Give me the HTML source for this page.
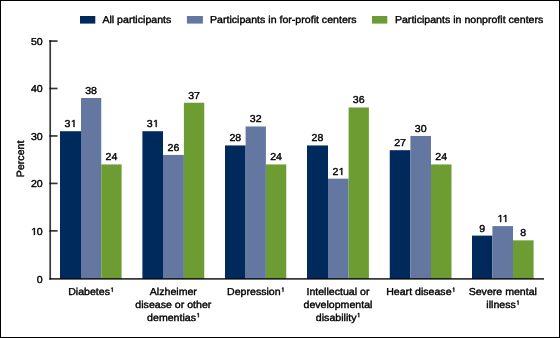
<!DOCTYPE html>
<html><head><meta charset="utf-8"><style>
html,body{margin:0;padding:0;background:#fff}
.wrap{position:relative;width:560px;height:338px;box-sizing:border-box;border:1px solid #000;overflow:hidden;background:#fff}
svg{position:absolute;left:-1px;top:-1px}
.t{will-change:transform}
text{font-family:"Liberation Sans",sans-serif;font-size:10.6px;fill:#000;stroke:#000;stroke-width:0.4px;text-rendering:geometricPrecision}
.h{fill:transparent;stroke:none}
.g{fill:#000;stroke:#000;stroke-width:0.4px;vector-effect:non-scaling-stroke}
</style></head><body><div class="wrap">
<svg width="560" height="338" viewBox="0 0 560 338">
<rect x="60.00" y="131.21" width="21.00" height="147.69" fill="#002A5C"/>
<rect x="81.00" y="97.99" width="20.25" height="180.91" fill="#6477A0"/>
<rect x="101.25" y="164.42" width="20.35" height="114.48" fill="#6D9D32"/>
<rect x="142.40" y="131.21" width="20.60" height="147.69" fill="#002A5C"/>
<rect x="163.00" y="154.93" width="20.90" height="123.97" fill="#6477A0"/>
<rect x="183.90" y="102.74" width="20.35" height="176.16" fill="#6D9D32"/>
<rect x="225.00" y="145.44" width="20.60" height="133.46" fill="#002A5C"/>
<rect x="245.60" y="126.46" width="20.30" height="152.44" fill="#6477A0"/>
<rect x="265.90" y="164.42" width="20.35" height="114.48" fill="#6D9D32"/>
<rect x="307.00" y="145.44" width="21.00" height="133.46" fill="#002A5C"/>
<rect x="328.00" y="178.66" width="20.60" height="100.24" fill="#6477A0"/>
<rect x="348.60" y="107.48" width="20.30" height="171.42" fill="#6D9D32"/>
<rect x="389.75" y="150.19" width="20.65" height="128.72" fill="#002A5C"/>
<rect x="410.40" y="135.95" width="20.60" height="142.95" fill="#6477A0"/>
<rect x="431.00" y="164.42" width="20.50" height="114.48" fill="#6D9D32"/>
<rect x="472.00" y="235.60" width="20.40" height="43.30" fill="#002A5C"/>
<rect x="492.40" y="226.11" width="20.60" height="52.79" fill="#6477A0"/>
<rect x="513.00" y="240.34" width="20.60" height="38.56" fill="#6D9D32"/>
<path d="M50.2 40.1 V279.7" stroke="#000" stroke-opacity="0.78" stroke-width="1.7"/>
<path d="M49.4 278.85 H544" stroke="#000" stroke-opacity="0.78" stroke-width="1.7"/>
<path d="M49.4 230.85 H57.6" stroke="#000" stroke-opacity="0.78" stroke-width="1.7"/>
<path d="M49.4 183.40 H57.6" stroke="#000" stroke-opacity="0.78" stroke-width="1.7"/>
<path d="M49.4 135.95 H57.6" stroke="#000" stroke-opacity="0.78" stroke-width="1.7"/>
<path d="M49.4 88.50 H57.6" stroke="#000" stroke-opacity="0.78" stroke-width="1.7"/>
<path d="M49.4 41.05 H57.6" stroke="#000" stroke-opacity="0.78" stroke-width="1.7"/>
<rect x="80" y="16" width="15.3" height="7.6" fill="#002A5C"/>
<rect x="186.9" y="16" width="16" height="7.6" fill="#6477A0"/>
<rect x="372" y="16" width="15.3" height="7.6" fill="#6D9D32"/>
</svg>
<svg class="t" width="560" height="338" viewBox="0 0 560 338">
<g transform="translate(70.50 127.00) scale(1 0.95)"><text text-anchor="middle">3<tspan class="h">1</tspan></text><path class="g" transform="translate(0.000 0) scale(0.005176 -0.005176)" d="M583 0V1237L265 1010V1180L598 1409H764V0Z"/></g>
<g transform="translate(91.12 94.00) scale(1 0.95)"><text text-anchor="middle">38</text></g>
<g transform="translate(111.42 160.00) scale(1 0.95)"><text text-anchor="middle">24</text></g>
<g transform="translate(90.80 295.00) scale(1 0.95)"><text text-anchor="middle">Diabetes<tspan class="h">¹</tspan></text><path class="g" transform="translate(19.141 0) scale(0.005176 -0.005176) translate(0 100)" d="M391 563V1290L240 1190V1290L399 1409H522V563Z"/></g>
<g transform="translate(152.70 127.00) scale(1 0.95)"><text text-anchor="middle">3<tspan class="h">1</tspan></text><path class="g" transform="translate(0.000 0) scale(0.005176 -0.005176)" d="M583 0V1237L265 1010V1180L598 1409H764V0Z"/></g>
<g transform="translate(173.45 151.00) scale(1 0.95)"><text text-anchor="middle">26</text></g>
<g transform="translate(194.07 99.00) scale(1 0.95)"><text text-anchor="middle">37</text></g>
<g transform="translate(173.32 295.00) scale(1 0.95)"><text text-anchor="middle">Alzheimer</text></g>
<g transform="translate(173.32 308.00) scale(1 0.95)"><text text-anchor="middle">disease or other</text></g>
<g transform="translate(173.32 320.50) scale(1 0.95)"><text text-anchor="middle">dementias<tspan class="h">¹</tspan></text><path class="g" transform="translate(22.680 0) scale(0.005176 -0.005176) translate(0 100)" d="M391 563V1290L240 1190V1290L399 1409H522V563Z"/></g>
<g transform="translate(235.30 141.00) scale(1 0.95)"><text text-anchor="middle">28</text></g>
<g transform="translate(255.75 122.00) scale(1 0.95)"><text text-anchor="middle">32</text></g>
<g transform="translate(276.07 160.00) scale(1 0.95)"><text text-anchor="middle">24</text></g>
<g transform="translate(255.62 295.00) scale(1 0.95)"><text text-anchor="middle">Depression<tspan class="h">¹</tspan></text><path class="g" transform="translate(25.031 0) scale(0.005176 -0.005176) translate(0 100)" d="M391 563V1290L240 1190V1290L399 1409H522V563Z"/></g>
<g transform="translate(317.50 141.00) scale(1 0.95)"><text text-anchor="middle">28</text></g>
<g transform="translate(338.30 175.00) scale(1 0.95)"><text text-anchor="middle">2<tspan class="h">1</tspan></text><path class="g" transform="translate(0.000 0) scale(0.005176 -0.005176)" d="M583 0V1237L265 1010V1180L598 1409H764V0Z"/></g>
<g transform="translate(358.75 103.00) scale(1 0.95)"><text text-anchor="middle">36</text></g>
<g transform="translate(337.95 295.00) scale(1 0.95)"><text text-anchor="middle">Intellectual or</text></g>
<g transform="translate(337.95 308.00) scale(1 0.95)"><text text-anchor="middle">developmental</text></g>
<g transform="translate(337.95 320.50) scale(1 0.95)"><text text-anchor="middle">disability<tspan class="h">¹</tspan></text><path class="g" transform="translate(18.555 0) scale(0.005176 -0.005176) translate(0 100)" d="M391 563V1290L240 1190V1290L399 1409H522V563Z"/></g>
<g transform="translate(400.07 146.00) scale(1 0.95)"><text text-anchor="middle">27</text></g>
<g transform="translate(420.70 132.00) scale(1 0.95)"><text text-anchor="middle">30</text></g>
<g transform="translate(441.25 160.00) scale(1 0.95)"><text text-anchor="middle">24</text></g>
<g transform="translate(420.62 295.00) scale(1 0.95)"><text text-anchor="middle">Heart disease<tspan class="h">¹</tspan></text><path class="g" transform="translate(30.922 0) scale(0.005176 -0.005176) translate(0 100)" d="M391 563V1290L240 1190V1290L399 1409H522V563Z"/></g>
<g transform="translate(482.20 232.00) scale(1 0.95)"><text text-anchor="middle">9</text></g>
<g transform="translate(502.70 222.00) scale(1 0.95)"><text text-anchor="middle"><tspan class="h">1</tspan><tspan class="h">1</tspan></text><path class="g" transform="translate(-5.508 0) scale(0.005176 -0.005176)" d="M583 0V1237L265 1010V1180L598 1409H764V0Z"/><path class="g" transform="translate(-0.398 0) scale(0.005176 -0.005176)" d="M583 0V1237L265 1010V1180L598 1409H764V0Z"/></g>
<g transform="translate(523.30 236.00) scale(1 0.95)"><text text-anchor="middle">8</text></g>
<g transform="translate(502.80 295.00) scale(1 0.95)"><text text-anchor="middle">Severe mental</text></g>
<g transform="translate(502.80 308.00) scale(1 0.95)"><text text-anchor="middle">illness<tspan class="h">¹</tspan></text><path class="g" transform="translate(12.961 0) scale(0.005176 -0.005176) translate(0 100)" d="M391 563V1290L240 1190V1290L399 1409H522V563Z"/></g>
<g transform="translate(42.70 283.00) scale(1 0.95)"><text text-anchor="end">0</text></g>
<g transform="translate(42.70 235.00) scale(1 0.95)"><text text-anchor="end"><tspan class="h">1</tspan>0</text><path class="g" transform="translate(-11.812 0) scale(0.005176 -0.005176)" d="M583 0V1237L265 1010V1180L598 1409H764V0Z"/></g>
<g transform="translate(42.70 187.00) scale(1 0.95)"><text text-anchor="end">20</text></g>
<g transform="translate(42.70 140.00) scale(1 0.95)"><text text-anchor="end">30</text></g>
<g transform="translate(42.70 92.00) scale(1 0.95)"><text text-anchor="end">40</text></g>
<g transform="translate(42.70 45.00) scale(1 0.95)"><text text-anchor="end">50</text></g>
<g transform="translate(24.1 158.9) rotate(-90)"><text text-anchor="middle">Percent</text></g>
<g transform="translate(102.40 23.00) scale(1 0.95)"><text text-anchor="start">All participants</text></g>
<g transform="translate(210.00 23.00) scale(1 0.95)"><text text-anchor="start">Participants in for-profit centers</text></g>
<g transform="translate(394.90 23.00) scale(1 0.95)"><text text-anchor="start">Participants in nonprofit centers</text></g>
</svg></div></body></html>
